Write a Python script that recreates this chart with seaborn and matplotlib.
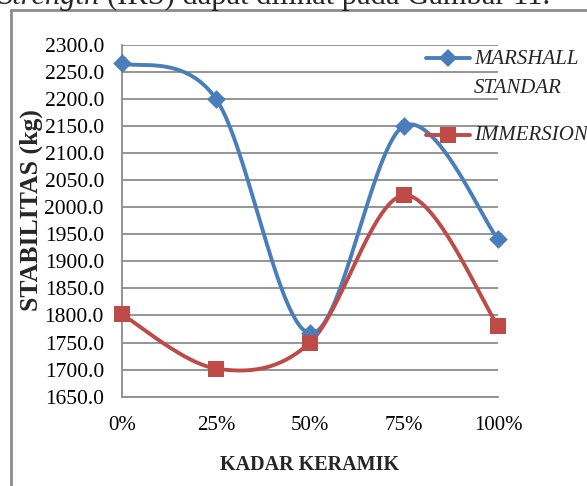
import numpy as np
import pandas as pd
import matplotlib
matplotlib.use("Agg")
import matplotlib.pyplot as plt
from matplotlib.lines import Line2D
import seaborn as sns

# Data
kadar = ["0%", "25%", "50%", "75%", "100%"]
marshall_standar = [2266, 2200, 1767, 2150, 1941]
immersion = [1802, 1702, 1750, 2022, 1781]
y_ticks = [1650 + 50 * i for i in range(14)]

BLUE = "#4a7ebb"
RED = "#be4b48"
GRID = "#8c8c8c"


def smooth_curve(xs, ys, n=60):
    """Bezier smoothing through every point (spreadsheet-style smoothed line)."""
    xs = np.asarray(xs, float)
    ys = np.asarray(ys, float)
    px = np.concatenate([[xs[0]], xs, [xs[-1]]])
    py = np.concatenate([[ys[0]], ys, [ys[-1]]])
    out_x, out_y = [], []
    t = np.linspace(0, 1, n)
    for i in range(1, len(px) - 2):
        p0 = np.array([px[i - 1], py[i - 1]])
        p1 = np.array([px[i], py[i]])
        p2 = np.array([px[i + 1], py[i + 1]])
        p3 = np.array([px[i + 2], py[i + 2]])
        c1 = p1 + (p2 - p0) / 6.0
        c2 = p2 - (p3 - p1) / 6.0
        b = ((1 - t) ** 3)[:, None] * p1 + (3 * (1 - t) ** 2 * t)[:, None] * c1 \
            + (3 * (1 - t) * t ** 2)[:, None] * c2 + (t ** 3)[:, None] * p2
        out_x.extend(b[:, 0])
        out_y.extend(b[:, 1])
    return np.array(out_x), np.array(out_y)


sns.set_theme(style="white")
plt.rcParams["font.family"] = ["Liberation Serif", "DejaVu Serif"]

fig = plt.figure(figsize=(5.87, 4.86), dpi=100)
W, H = 587, 486

# Caption line partly visible above the frame
fig.text(-2 / W, 1 - 4 / H, "Strength", fontsize=22, style="italic", ha="left", va="baseline")
fig.text(107 / W, 1 - 4 / H, "(IRS) dapat dilihat pada Gambar 11.", fontsize=22, ha="left", va="baseline")

# Chart frame
fig.add_artist(Line2D([11 / W, 1.0], [1 - 10 / H, 1 - 10 / H], color=GRID, lw=2, transform=fig.transFigure))
fig.add_artist(Line2D([11 / W, 11 / W], [0, 1 - 10 / H], color=GRID, lw=2, transform=fig.transFigure))

ax = fig.add_axes([122 / W, 1 - 396.7 / H, 376 / W, 352 / H])
ax.set_facecolor("none")

xpos = np.arange(len(kadar))
series = [("MARSHALL\nSTANDAR", marshall_standar, BLUE, "D", 9.5),
          ("IMMERSION", immersion, RED, "s", 11)]

for name, vals, col, mk, ms in series:
    sx, sy = smooth_curve(xpos, vals)
    sns.lineplot(x=sx, y=sy, sort=False, color=col, lw=2.8, ax=ax, clip_on=False, zorder=3)
    sns.scatterplot(x=xpos, y=vals, marker=mk, s=ms ** 2, color=col, edgecolor=col,
                    linewidth=0, ax=ax, clip_on=False, zorder=4)

ax.set_xlim(0, 4)
ax.set_ylim(1650, 2300)
ax.set_yticks(y_ticks)
ax.set_yticklabels([f"{v:.1f}" for v in y_ticks])
ax.set_xticks(xpos)
ax.set_xticklabels(kadar)
ax.tick_params(axis="both", length=0, colors="black")
ax.tick_params(axis="y", pad=13, labelsize=15.5)
ax.tick_params(axis="x", pad=14, labelsize=15)
ax.grid(axis="y", color=GRID, lw=1.3)
ax.set_axisbelow(True)
for side in ["top", "right"]:
    ax.spines[side].set_visible(False)
for side in ["left", "bottom"]:
    ax.spines[side].set_color(GRID)
    ax.spines[side].set_linewidth(1.3)

ax.set_xlabel("KADAR KERAMIK", fontsize=14.5, fontweight="bold")
ax.set_ylabel("STABILITAS (kg)", fontsize=18.5, fontweight="bold")
ax.xaxis.set_label_coords(0.5, -0.165)
ax.yaxis.set_label_coords(-0.21, 0.53)

handles = [Line2D([], [], color=c, lw=2.8, marker=m, markersize=s, markeredgewidth=0)
           for _, _, c, m, s in series]
leg = ax.legend(handles, [s[0] for s in series], loc="upper left",
                bbox_to_anchor=(426 / W, 1 - 50 / H), bbox_transform=fig.transFigure,
                frameon=False, prop={"family": "Liberation Serif", "style": "italic", "size": 15},
                handlelength=2.1, handletextpad=0.2, handleheight=1.0,
                labelspacing=1.35, borderpad=0, borderaxespad=0)
for t in leg.get_texts():
    t.set_linespacing(1.74)
# keep each handle level with the first line of its label
for column in leg._legend_handle_box.get_children():
    for item in column.get_children():
        item.align = "top"

fig.savefig("out.png", dpi=100)
